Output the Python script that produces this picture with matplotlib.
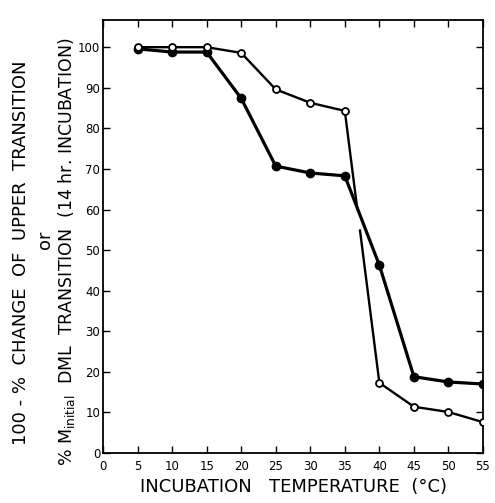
import numpy as np
import matplotlib.pyplot as plt

temps = [5, 10, 15, 20, 25, 30, 35, 40, 45, 50, 55]
upper_open = [100, 100, 100, 98.6, 89.6, 86.3, 84.3, 17.3, 11.4, 10.1, 7.6]
dml_filled = [99.6, 98.8, 98.8, 87.4, 70.7, 69.0, 68.3, 46.3, 18.8, 17.5, 17.0]

xticks = list(range(0, 60, 5))
yticks = list(range(0, 110, 10))

fig = plt.figure(figsize=(4.95, 5.03), dpi=100)
ax = fig.add_axes([103 / 495, 1 - 453 / 503, 380 / 495, 433 / 503])

# open circles: break the line where it passes behind the filled curve
t = np.array(temps)
u = np.array(upper_open)
x_brk1, x_brk2 = 36.8, 37.2
y_brk1 = np.interp(x_brk1, t, u)
y_brk2 = np.interp(x_brk2, t, u)
ax.plot(list(t[:7]) + [x_brk1], list(u[:7]) + [y_brk1], color='black', lw=1.7, zorder=2)
ax.plot([x_brk2] + list(t[7:]), [y_brk2] + list(u[7:]), color='black', lw=1.7, zorder=2)
ax.plot(temps, upper_open, 'o', ms=5, mfc='white', mec='black', mew=1.3, zorder=4)

ax.plot(temps, dml_filled, '-o', color='black', lw=2.3, ms=6, zorder=3)

ax.set_xlim(0, 55)
ax.set_ylim(0, 106.7)
ax.set_xticks(xticks)
ax.set_yticks(yticks)
ax.tick_params(direction='in', length=5, width=1, top=True, right=True,
               labelsize=8.5)
ax.tick_params(axis='y', pad=2)
ax.tick_params(axis='x', pad=5)
for s in ax.spines.values():
    s.set_linewidth(1.3)

ax.set_xlabel('INCUBATION   TEMPERATURE  (°C)', fontsize=13, labelpad=4)

fig.text(21 / 495, 0.497, '100 - %  CHANGE  OF  UPPER  TRANSITION', rotation=90,
         ha='center', va='center', fontsize=13)
fig.text(45 / 495, 0.523, 'or', rotation=90, ha='center', va='center', fontsize=13)
fig.text(67 / 495, 0.5, r'% M$_{\mathrm{initial}}$  DML  TRANSITION  (14 hr. INCUBATION)',
         rotation=90, ha='center', va='center', fontsize=12.5)

fig.savefig('out.png', dpi=100)
